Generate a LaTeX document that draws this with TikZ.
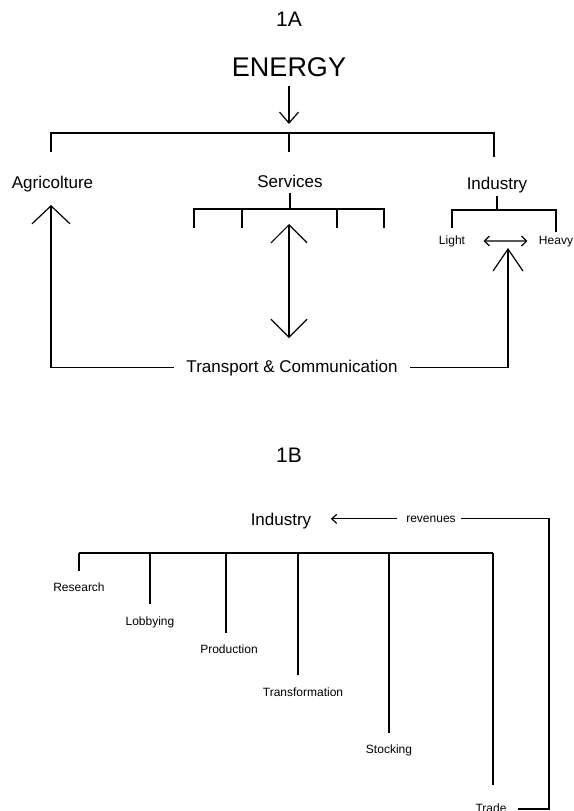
\documentclass[tikz,border=0pt]{standalone}
\usepackage{fontspec}
\setmainfont{Liberation Sans}
\usetikzlibrary{arrows.meta,positioning}
\begin{document}
\begin{tikzpicture}[x=1pt, y=-1pt, line width=1.2pt,
    every node/.style={anchor=base, inner sep=3pt},
    heading/.style={font=\fontsize{21}{24}\selectfont},
    source/.style={font=\fontsize{27}{30}\selectfont},
    sector/.style={font=\fontsize{17}{20}\selectfont},
    branch/.style={font=\fontsize{12}{14}\selectfont},
    smallbarb/.style={-{Straight Barb[length=11pt,width=19pt]}},
    bigbarb/.style={-{Straight Barb[length=18pt,width=38pt]}},
    steepbarb/.style={-{Straight Barb[length=22pt,width=30pt]}},
    twoway/.style={{Straight Barb[length=18pt,width=36pt]}-{Straight Barb[length=18pt,width=36pt]}},
    tinytwoway/.style={{Straight Barb[length=5pt,width=10pt]}-{Straight Barb[length=5pt,width=10pt]}},
    tinybarb/.style={-{Straight Barb[length=5pt,width=9pt]}}]

    \useasboundingbox (0,0) rectangle (573,811);

    % 1A: energy split into sectors
    \node (head a) [heading] at (289,26) {1A};
    \node (energy) [source] at (289,76) {ENERGY};
    \coordinate (split) at (289,133);
    \draw[smallbarb, shorten <=6pt, shorten >=9pt] (energy) -- (split);

    \node (agri) [sector] at (52.5,188) {Agricolture};
    \node (serv) [sector] at (290,187) {Services};
    \node (ind) [sector] at (497,189) {Industry};
    \coordinate (agri end) at (51,152);
    \coordinate (serv end) at (289,152);
    \coordinate (ind end) at (494,157);
    \draw (agri end) |- (split) -| (ind end);
    \draw (split) -- (serv end);

    % Services branches
    \coordinate (serv bar) at (290,209);
    \draw[shorten <=2pt] (serv) -- (serv bar);
    \draw (194,228) -- (194,209) -- (384,209) -- (384,228);
    \draw (242,209) -- (242,228);
    \draw (337,209) -- (337,228);

    % Industry branches
    \node (light) [branch] at (452,244) {Light};
    \node (heavy) [branch] at (556,244) {Heavy};
    \coordinate (ind bar) at (497,210);
    \draw (ind) -- (ind bar);
    \draw[shorten <=4pt] (light) |- (ind bar) -| (heavy);
    \draw[tinytwoway, shorten <=15pt, shorten >=8pt] (light) -- (heavy);

    % Transport & Communication
    \node (trans) [sector, inner xsep=12pt] at (292,372) {Transport \& Communication};
    \coordinate (serv low) at (289,224);
    \coordinate (agri tip) at (51,205);
    \coordinate (ind tip) at (508,248);
    \draw[twoway, shorten >=18pt] (serv low) -- (serv low |- trans.north);
    \draw[bigbarb] (trans) -| (agri tip);
    \draw[steepbarb] (trans) -| (ind tip);

    % 1B: industry activities
    \node (head b) [heading] at (289,462) {1B};
    \node (ind2) [sector] at (281,525) {Industry};
    \node (revenues) [branch] at (431,522) {revenues};
    \draw[tinybarb, shorten <=6pt, shorten >=16pt] (revenues.west) -- (revenues.west -| ind2.east);

    \node (research) [branch] at (79,591) {Research};
    \node (lobbying) [branch] at (150,625) {Lobbying};
    \node (production) [branch] at (229,653) {Production};
    \node (transformation) [branch] at (303,696) {Transformation};
    \node (stocking) [branch] at (389,753) {Stocking};
    \node (trade) [branch] at (491,812) {Trade};

    % Tree of activities
    \coordinate (r top) at (79,553);
    \coordinate (l top) at (150,553);
    \coordinate (p top) at (226,553);
    \coordinate (t top) at (298,553);
    \coordinate (s top) at (389,553);
    \coordinate (d top) at (493,553);
    \draw (r top) -- (d top);
    \draw[shorten >=8pt] (r top) -- (r top |- research.north);
    \draw[shorten >=9pt] (l top) -- (l top |- lobbying.north);
    \draw[shorten >=8pt] (p top) -- (p top |- production.north);
    \draw[shorten >=9pt] (t top) -- (t top |- transformation.north);
    \draw[shorten >=8pt] (s top) -- (s top |- stocking.north);
    \draw[shorten >=15pt] (d top) -- (d top |- trade.north);

    % Revenues loop back from trade
    \coordinate (loop) at (549,809);
    \draw[shorten <=2pt, shorten >=8pt] (revenues) -| (loop) -- (loop -| trade.east);

\end{tikzpicture}
\end{document}
